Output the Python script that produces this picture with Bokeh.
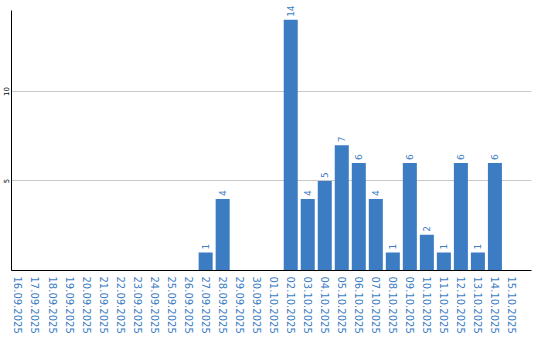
from math import pi
from bokeh.plotting import figure
from bokeh.models import ColumnDataSource, Range1d, FixedTicker, LabelSet
from bokeh.core.properties import value
from bokeh.embed import file_html
from bokeh.resources import INLINE

dates = ["16.09.2025", "17.09.2025", "18.09.2025", "19.09.2025", "20.09.2025",
         "21.09.2025", "22.09.2025", "23.09.2025", "24.09.2025", "25.09.2025",
         "26.09.2025", "27.09.2025", "28.09.2025", "29.09.2025", "30.09.2025",
         "01.10.2025", "02.10.2025", "03.10.2025", "04.10.2025", "05.10.2025",
         "06.10.2025", "07.10.2025", "08.10.2025", "09.10.2025", "10.10.2025",
         "11.10.2025", "12.10.2025", "13.10.2025", "14.10.2025", "15.10.2025"]
counts = [0, 0, 0, 0, 0, 0, 0, 0, 0, 0, 0, 1, 4, 0, 0,
          0, 14, 4, 5, 7, 6, 4, 1, 6, 2, 1, 6, 1, 6, 0]
y_ticks = [5, 10]

BLUE = "#3b7cc3"
FONT = "DejaVu Sans"

xs = list(range(len(dates)))
src = ColumnDataSource(dict(x=xs, top=counts))
lab = ColumnDataSource(dict(
    x=[x for x, c in zip(xs, counts) if c > 0],
    y=[c for c in counts if c > 0],
    t=[str(c) for c in counts if c > 0],
))

p = figure(width=540, height=340, output_backend="svg", toolbar_location=None,
           x_range=Range1d(-0.41, 30.15), y_range=Range1d(0, 14.97),
           min_border_left=0, min_border_right=9, min_border_top=2, min_border_bottom=70)
p.outline_line_color = None
p.background_fill_color = "white"
p.border_fill_color = "white"

p.vbar(x="x", top="top", bottom=0, width=14/17, source=src,
       fill_color=BLUE, line_color=None)
labels = LabelSet(x="x", y="y", text="t", source=lab, angle=pi/2, y_offset=3,
                  text_align="left", text_baseline="middle", text_color=BLUE,
                  text_font=value(FONT), text_font_size="9px")
p.add_layout(labels)

p.xgrid.visible = False
p.ygrid.ticker = FixedTicker(ticks=y_ticks)
p.ygrid.grid_line_color = "#c8c8c8"
p.ygrid.grid_line_width = 1

xa = p.xaxis[0]
xa.ticker = FixedTicker(ticks=xs)
xa.major_label_overrides = {i: d for i, d in enumerate(dates)}
xa.major_label_orientation = "vertical"
xa.major_tick_out = 0
xa.major_tick_in = 0
xa.minor_tick_out = 0
xa.minor_tick_in = 0
xa.major_label_standoff = 6
xa.major_label_text_color = BLUE
xa.major_label_text_font = FONT
xa.major_label_text_font_size = "10px"
xa.axis_line_color = "black"

ya = p.yaxis[0]
ya.ticker = FixedTicker(ticks=y_ticks)
ya.bounds = (0, 14.52)
ya.major_label_orientation = "vertical"
ya.major_tick_out = 0
ya.major_tick_in = 0
ya.minor_tick_out = 0
ya.minor_tick_in = 0
ya.major_label_standoff = 2
ya.major_label_text_color = "black"
ya.major_label_text_font = FONT
ya.major_label_text_font_size = "7px"
ya.axis_line_color = "black"

open("out.html", "w").write(file_html(p, INLINE))
